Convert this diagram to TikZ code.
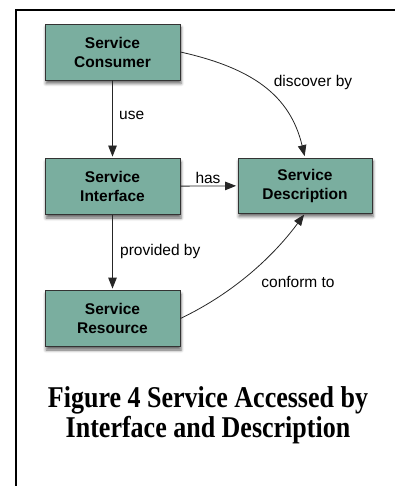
\documentclass[tikz,border=0pt]{standalone}
\usepackage{fontspec}
\setmainfont{Liberation Serif}
\newfontfamily\hv{Liberation Sans}
\usetikzlibrary{arrows.meta,shadows.blur}
\definecolor{boxfill}{HTML}{7AAE9F}
\begin{document}
\begin{tikzpicture}[x=1pt,y=-1pt,
  svc/.style={draw=black!80, line width=0.8pt, fill=boxfill, minimum width=135pt, minimum height=56pt, inner sep=0pt, align=center,
    font=\hv\bfseries\fontsize{15.5}{19}\selectfont,
    blur shadow={shadow xshift=1pt, shadow yshift=-3.5pt, shadow blur radius=3pt, shadow opacity=60}},
  conn/.style={draw=black!85, line width=0.8pt, -{Triangle[length=11pt,width=8.5pt]}, shorten >=1.5pt},
  lbl/.style={font=\hv\fontsize{15.5}{19}\selectfont, inner sep=0pt},
  frame/.style={line width=2pt}]
\useasboundingbox (0,0) rectangle (395,486);
\draw[frame] (16,487) -- (16,10) -- (396,10);

\node[svc] (cons) at (112.5,52) {Service\\Consumer};
\node[svc] (intf) at (112.5,186.5) {Service\\Interface};
\node[svc, minimum width=134pt, minimum height=55pt] (desc) at (305,185.5) {Service\\Description};
\node[svc] (res) at (112.5,318.5) {Service\\Resource};

\draw[conn] (cons) -- (intf);
\draw[conn] (intf) -- (desc);
\draw[conn] (intf) -- (res);
\draw[conn] (cons.east) .. controls (252,68) and (290,95) .. (desc.north);
\draw[conn] (res.east) .. controls (240,290) and (278,250) .. (desc.south);

\node[lbl, anchor=west] (luse) at (119,115) {use};
\node[lbl] (lhas) at (208,178) {has};
\node[lbl] (ldisc) at (313,82) {discover by};
\node[lbl, anchor=west] (lprov) at (120,251) {provided by};
\node[lbl] (lconf) at (298,282) {conform to};

\node[anchor=base, align=center, inner sep=0pt, font=\bfseries\fontsize{26}{30}\selectfont] (cap) at (208,437.5)
  {\scalebox{1}[1.16]{Figure 4 Service Accessed by}\\\scalebox{1}[1.16]{Interface and Description}};
\end{tikzpicture}
\end{document}
